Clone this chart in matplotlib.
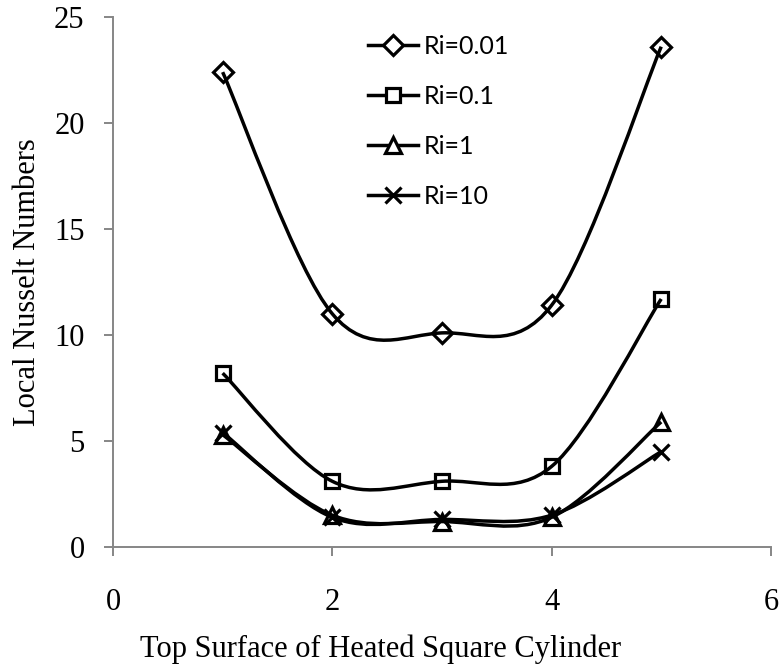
import matplotlib
matplotlib.use("Agg")
import matplotlib.pyplot as plt
from matplotlib.path import Path
from matplotlib.patches import PathPatch
import numpy as np

positions = [1, 2, 3, 4, 5]
nu_ri_001 = [22.4, 11.0, 10.1, 11.4, 23.6]
nu_ri_01 = [8.2, 3.1, 3.1, 3.8, 11.7]
nu_ri_1 = [5.3, 1.5, 1.2, 1.4, 5.9]
nu_ri_10 = [5.4, 1.4, 1.3, 1.5, 4.5]
labels = ["Ri=0.01", "Ri=0.1", "Ri=1", "Ri=10"]
markers = ["D", "s", "^", "x"]
marker_sizes = [10, 10.5, 11, 11]


def smooth_path(x, y):
    # Excel-style smoothed line: cubic Bezier through each point
    pts = np.column_stack([x, y]).astype(float)
    n = len(pts)
    verts = [pts[0]]
    codes = [Path.MOVETO]
    for i in range(n - 1):
        p0 = pts[i - 1] if i > 0 else pts[i]
        p1 = pts[i]
        p2 = pts[i + 1]
        p3 = pts[i + 2] if i + 2 < n else pts[i + 1]
        c1 = p1 + (p2 - p0) / 6
        c2 = p2 - (p3 - p1) / 6
        verts += [c1, c2, p2]
        codes += [Path.CURVE4] * 3
    return Path(verts, codes)


fig = plt.figure(figsize=(7.81, 6.64), dpi=100)
ax = fig.add_axes([0.1447, 0.1762, 0.8423, 0.7982])

series = [nu_ri_001, nu_ri_01, nu_ri_1, nu_ri_10]
for vals, lab, mk, ms in zip(series, labels, markers, marker_sizes):
    patch = PathPatch(smooth_path(positions, vals), facecolor="none",
                      edgecolor="black", linewidth=2.5, zorder=2)
    ax.add_patch(patch)
    ax.plot(positions, vals, linestyle="none", marker=mk, markersize=ms,
            markerfacecolor="none", markeredgecolor="black",
            markeredgewidth=2.3, zorder=3)
    # legend handle
    ax.plot([], [], color="black", linewidth=2.5, marker=mk, markersize=ms,
            markerfacecolor="white", markeredgecolor="black",
            markeredgewidth=2.3, label=lab)

ax.set_xlim(0, 6)
ax.set_ylim(0, 25)
ax.set_xticks([0, 2, 4, 6])
ax.set_yticks([0, 5, 10, 15, 20, 25])

for side in ["top", "right"]:
    ax.spines[side].set_visible(False)
for side in ["left", "bottom"]:
    ax.spines[side].set_color("#868686")
    ax.spines[side].set_linewidth(1.4)
ax.tick_params(axis="both", direction="out", length=6.5, width=1.4,
               color="#868686", labelsize=22, labelcolor="black")
ax.tick_params(axis="x", pad=23)
ax.tick_params(axis="y", pad=14)
for lbl in ax.get_xticklabels() + ax.get_yticklabels():
    lbl.set_family("Liberation Serif")

# Excel centres this title on the chart area, a bit left of the plot centre
ax.set_xlabel("Top Surface of Heated Square Cylinder",
              family="Liberation Serif", fontsize=22, labelpad=12.5, x=0.406)
ax.set_ylabel("Local Nusselt Numbers", family="Liberation Serif",
              fontsize=22, labelpad=9)

leg = ax.legend(loc="upper left", bbox_to_anchor=(0.3875, 0.966),
                frameon=False, borderpad=0, borderaxespad=0,
                prop={"family": "Lato", "size": 18}, handlelength=2.0,
                handletextpad=0.25, labelspacing=1.08)

fig.savefig("out.png", dpi=100)
plt.close(fig)
